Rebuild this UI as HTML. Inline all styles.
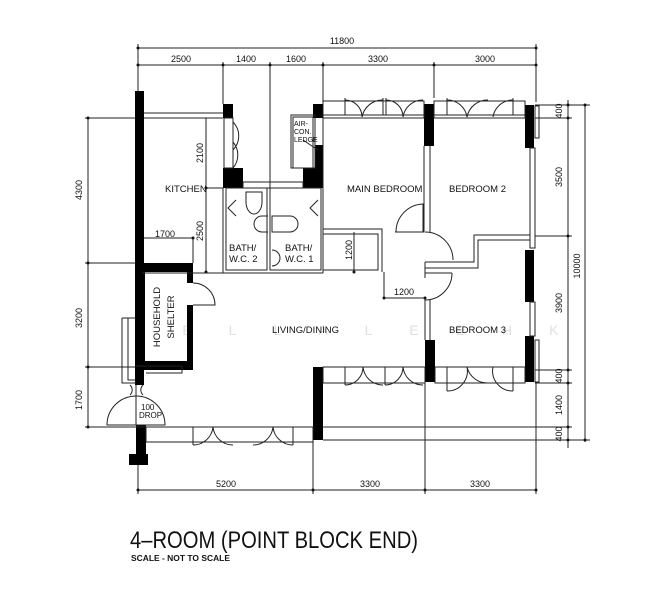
<!DOCTYPE html>
<html><head><meta charset="utf-8"><style>
html,body{margin:0;padding:0;background:#fff;}
svg{display:block;}
text{font-family:"Liberation Sans",sans-serif;fill:#111;}
</style></head><body>
<svg width="659" height="600" viewBox="0 0 659 600" xmlns="http://www.w3.org/2000/svg">
<g stroke="#222" stroke-width="1" fill="none">
<line x1="138" y1="48" x2="536" y2="48"/>
<line x1="138" y1="65" x2="536" y2="65"/>
<line x1="138" y1="44" x2="138" y2="92"/>
<line x1="223" y1="62" x2="223" y2="104"/>
<line x1="270" y1="62" x2="270" y2="188"/>
<line x1="323" y1="62" x2="323" y2="104"/>
<line x1="434" y1="62" x2="434" y2="98"/>
<line x1="536" y1="44" x2="536" y2="102"/>
<line x1="85" y1="118" x2="142" y2="118"/>
<line x1="85" y1="263" x2="138" y2="263"/>
<line x1="85" y1="367" x2="138" y2="367"/>
<line x1="85" y1="427" x2="138" y2="427"/>
<line x1="88" y1="118" x2="88" y2="427"/>
<line x1="206" y1="118" x2="206" y2="272"/>
<line x1="206" y1="188" x2="223" y2="188"/>
<line x1="138" y1="238" x2="193" y2="238"/>
<line x1="193" y1="238" x2="193" y2="263"/>
<line x1="535" y1="105" x2="572" y2="105"/>
<line x1="535" y1="118" x2="572" y2="118"/>
<line x1="535" y1="236" x2="572" y2="236"/>
<line x1="535" y1="370" x2="572" y2="370"/>
<line x1="535" y1="383" x2="572" y2="383"/>
<line x1="535" y1="105" x2="590" y2="105"/>
<line x1="568" y1="100" x2="568" y2="448"/>
<line x1="585" y1="105" x2="585" y2="442"/>
<line x1="320" y1="427" x2="572" y2="427"/>
<line x1="323" y1="440" x2="590" y2="440"/>
<line x1="138" y1="490" x2="536" y2="490"/>
<line x1="138" y1="465" x2="138" y2="494"/>
<line x1="313" y1="440" x2="313" y2="494"/>
<line x1="425" y1="383" x2="425" y2="494"/>
<line x1="536" y1="383" x2="536" y2="494"/>
<line x1="354" y1="232" x2="354" y2="272"/>
<line x1="384" y1="298" x2="425" y2="298"/>
<line x1="384" y1="272" x2="384" y2="298"/>
</g>
<g fill="#111">
<circle cx="138" cy="48" r="1.5"/><circle cx="536" cy="48" r="1.5"/>
<circle cx="138" cy="65" r="1.5"/><circle cx="223" cy="65" r="1.5"/><circle cx="270" cy="65" r="1.5"/><circle cx="323" cy="65" r="1.5"/><circle cx="434" cy="65" r="1.5"/><circle cx="536" cy="65" r="1.5"/>
<circle cx="88" cy="118" r="1.5"/><circle cx="88" cy="263" r="1.5"/><circle cx="88" cy="367" r="1.5"/><circle cx="88" cy="427" r="1.5"/>
<circle cx="568" cy="105" r="1.5"/><circle cx="568" cy="118" r="1.5"/><circle cx="568" cy="236" r="1.5"/><circle cx="568" cy="370" r="1.5"/><circle cx="568" cy="383" r="1.5"/><circle cx="568" cy="427" r="1.5"/><circle cx="568" cy="440" r="1.5"/>
<circle cx="585" cy="105" r="1.5"/><circle cx="585" cy="440" r="1.5"/>
<circle cx="138" cy="490" r="1.5"/><circle cx="313" cy="490" r="1.5"/><circle cx="425" cy="490" r="1.5"/><circle cx="536" cy="490" r="1.5"/>
<circle cx="206" cy="188" r="1.5"/><circle cx="206" cy="272" r="1.5"/><circle cx="138" cy="238" r="1.5"/><circle cx="193" cy="238" r="1.5"/>
<circle cx="384" cy="298" r="1.5"/><circle cx="425" cy="298" r="1.5"/><circle cx="354" cy="272" r="1.5"/>
</g>
<g fill="#e2e2e2" font-size="14"><text x="136" y="335" style="fill:#e0e0e0" letter-spacing="37">SELLALEEHK</text></g>
<g fill="#000">
<rect x="135" y="91" width="9" height="294"/>
<rect x="223" y="104" width="10" height="14"/>
<rect x="223" y="168" width="20" height="20"/>
<rect x="313" y="104" width="10" height="14"/>
<rect x="315" y="145" width="8" height="43"/>
<rect x="303" y="168" width="20" height="20"/>
<rect x="424" y="104" width="10" height="42"/>
<rect x="525" y="105" width="9" height="43"/>
<rect x="525" y="250" width="9" height="52"/>
<rect x="525" y="336" width="9" height="46"/>
<rect x="425" y="340" width="10" height="42"/>
<rect x="313" y="367" width="10" height="73"/>
<rect x="136" y="425" width="10" height="33"/>
<rect x="129" y="454" width="19" height="11"/>
<path d="M136 263 H193 V370 H136 Z M145 272 V361 H187 V272 Z" fill-rule="evenodd"/>
</g>
<rect x="187" y="283" width="7" height="22" fill="#fff"/>
<g stroke="#222" stroke-width="1" fill="none">
<line x1="144" y1="113" x2="223" y2="113"/><line x1="144" y1="118" x2="223" y2="118"/>
<rect x="224" y="118" width="9" height="50"/>
<path d="M233 122 A20 20 0 0 1 233 150 M233 142 A20 20 0 0 1 233 168"/>
<rect x="243" y="182" width="60" height="6"/>
<line x1="223" y1="188" x2="223" y2="273"/>
<rect x="226" y="188" width="41" height="82"/>
<rect x="270" y="188" width="51" height="82"/>
<line x1="323" y1="118" x2="323" y2="273"/>
<line x1="142" y1="273" x2="323" y2="273"/>
<path d="M246 192 v10 a8 12 0 1 0 16 0 v-10 z"/>
<path d="M268 216 h-6 a8 8 0 1 0 0 16 h6"/>
<path d="M272 216 h18 a8 8 0 0 1 0 16 h-18z"/>
<path d="M272 250 a8 8 0 0 1 0 16"/>
<path d="M236 200 l-8 8 l8 8"/><path d="M318 200 l-8 8 l8 8"/>
<rect x="291" y="115" width="24" height="53"/>
<rect x="293" y="117" width="20" height="51"/>
<line x1="303" y1="140" x2="318" y2="150"/>
<rect x="323" y="101" width="101" height="17"/>
<line x1="323" y1="115" x2="424" y2="115"/>
<path d="M345 98 v17 M345 100 A17 17 0 0 1 362 117 M383 100 A21 21 0 0 0 362 117 M383 98 v17 M386 98 v17 M386 100 A17 17 0 0 1 403 117 M423 100 A20 20 0 0 0 403 117"/>
<rect x="434" y="101" width="91" height="17"/>
<line x1="434" y1="115" x2="525" y2="115"/>
<path d="M447 98 v17 M447 100 A20 20 0 0 1 467 117 M488 100 A21 21 0 0 0 467 117 M513 100 A20 20 0 0 0 493 117 M513 98 v17"/>
<rect x="530" y="148" width="5" height="100"/><rect x="530" y="302" width="5" height="34"/>
<rect x="535" y="106" width="4" height="32"/><rect x="535" y="340" width="4" height="42"/>
<path d="M424 146 V232 H423 M430 146 V232"/>
<path d="M323 229 H382 V272 M323 234 H378 V270 H323"/>
<path d="M395 232 H423 M396 232 A28 28 0 0 1 423 204 L423 232"/>
<path d="M425 232 A28 28 0 0 1 453 260"/>
<path d="M425 262 H474 V235 H530 M425 268 H478 V240 H530"/>
<line x1="425" y1="262" x2="425" y2="278"/>
<path d="M425 300 A27 27 0 0 0 452 273 M425 273 H452"/>
<line x1="425" y1="298" x2="425" y2="340"/><line x1="430" y1="300" x2="430" y2="340"/>
<rect x="323" y="367" width="102" height="16"/>
<path d="M345 367 v18 M345 385 A18 18 0 0 0 363 367 M383 385 A20 20 0 0 1 363 367 M385 367 v18 M385 385 A18 18 0 0 0 403 367 M423 385 A20 20 0 0 1 403 367"/>
<rect x="435" y="367" width="90" height="16"/>
<path d="M447 367 v24 M447 391 A20 20 0 0 0 467 367 M488 383 A21 21 0 0 1 467 367 M513 391 A20 20 0 0 1 493 367 M513 367 v24"/>
<rect x="146" y="427" width="167" height="15"/>
<path d="M193 427 v18 M193 445 A20 20 0 0 0 213 427 M233 445 A20 20 0 0 1 213 427 M253 445 A20 20 0 0 0 273 427 M293 445 A20 20 0 0 1 273 427 M293 427 v18"/>
<path d="M193 283 A22 22 0 0 1 215 305 H193"/>
<path d="M136 366 H182 V373 H146"/>
<path d="M122 318 V383 H136 M128 318 V380 H136 M122 318 H136"/>
<path d="M107 425 A29 29 0 0 1 165 425 Z"/>
<path d="M143 385 A10 8 0 0 0 143 395 M130 385 A10 8 0 0 1 130 395"/>
<line x1="136" y1="385" x2="136" y2="425"/>
<line x1="87" y1="427" x2="146" y2="427"/>
</g>
<g font-size="9">
<text x="342" y="44" text-anchor="middle">11800</text>
<text x="181" y="62" text-anchor="middle">2500</text>
<text x="246" y="62" text-anchor="middle">1400</text>
<text x="296" y="62" text-anchor="middle">1600</text>
<text x="378" y="62" text-anchor="middle">3300</text>
<text x="485" y="62" text-anchor="middle">3000</text>
<text x="165" y="237" text-anchor="middle">1700</text>
<text x="404" y="295" text-anchor="middle">1200</text>
<text x="226" y="487" text-anchor="middle">5200</text>
<text x="370" y="487" text-anchor="middle">3300</text>
<text x="480" y="487" text-anchor="middle">3300</text>
<text transform="translate(82,190) rotate(-90)" text-anchor="middle">4300</text>
<text transform="translate(82,318) rotate(-90)" text-anchor="middle">3200</text>
<text transform="translate(82,400) rotate(-90)" text-anchor="middle">1700</text>
<text transform="translate(203,153) rotate(-90)" text-anchor="middle">2100</text>
<text transform="translate(203,231) rotate(-90)" text-anchor="middle">2500</text>
<text transform="translate(352,250) rotate(-90)" text-anchor="middle">1200</text>
<text transform="translate(562,111) rotate(-90)" text-anchor="middle">400</text>
<text transform="translate(562,177) rotate(-90)" text-anchor="middle">3500</text>
<text transform="translate(562,303) rotate(-90)" text-anchor="middle">3900</text>
<text transform="translate(562,376) rotate(-90)" text-anchor="middle">400</text>
<text transform="translate(562,405) rotate(-90)" text-anchor="middle">1400</text>
<text transform="translate(562,434) rotate(-90)" text-anchor="middle">400</text>
<text transform="translate(580,266) rotate(-90)" text-anchor="middle">10000</text>
</g>
<g font-size="9.5">
<text x="165" y="192">KITCHEN</text>
<text x="347" y="192">MAIN BEDROOM</text>
<text x="449" y="192">BEDROOM 2</text>
<text x="449" y="333">BEDROOM 3</text>
<text x="272" y="333">LIVING/DINING</text>
<text x="229" y="251">BATH/</text><text x="229" y="262">W.C. 2</text>
<text x="285" y="251">BATH/</text><text x="285" y="262">W.C. 1</text>
<text x="294" y="126" font-size="7">AIR-</text>
<text x="294" y="134" font-size="7">CON.</text>
<text x="294" y="142" font-size="7">LEDGE</text>
<text transform="translate(160,317) rotate(-90)" text-anchor="middle">HOUSEHOLD</text>
<text transform="translate(174,317) rotate(-90)" text-anchor="middle">SHELTER</text>
<text x="141" y="410" font-size="8">100</text>
<text x="139" y="418" font-size="8">DROP</text>
</g>
<text x="130" y="548" font-size="24" textLength="288" lengthAdjust="spacingAndGlyphs" style="font-weight:normal">4–ROOM (POINT BLOCK END)</text>
<text x="131" y="561" font-size="8.5" font-weight="bold" textLength="99" lengthAdjust="spacingAndGlyphs">SCALE - NOT TO SCALE</text>
</svg>
</body></html>
